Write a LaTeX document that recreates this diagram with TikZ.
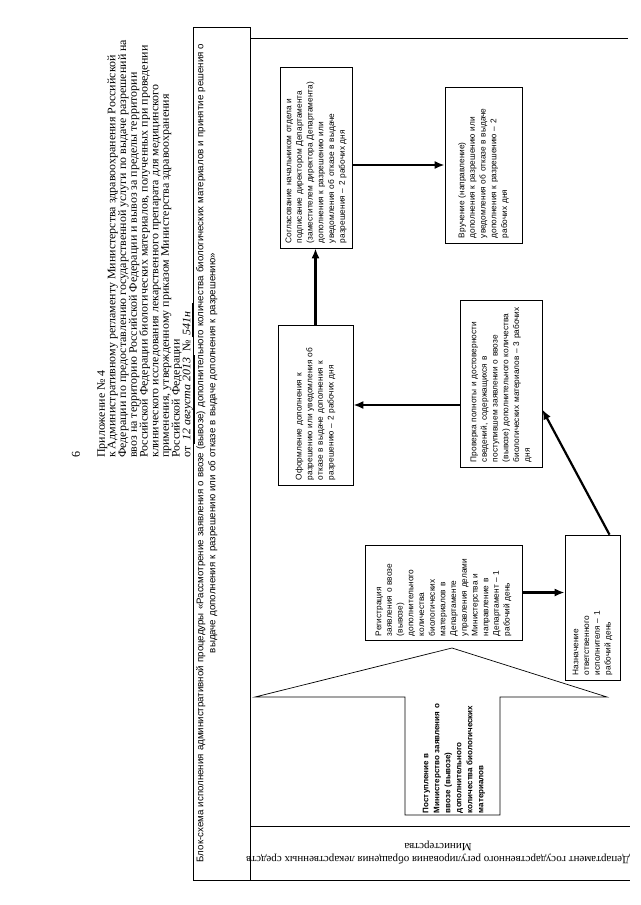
\documentclass[tikz,border=0pt]{standalone}
\usepackage{fontspec}
\setmainfont{Liberation Serif}
\setsansfont{Liberation Sans}
\newfontfamily\hdrfont[FakeStretch=1.04]{Liberation Serif}
\usetikzlibrary{arrows.meta,calc}
\begin{document}
\begin{tikzpicture}[x=1pt,y=-1pt]
\tikzset{
  frame/.style={line width=0.7pt},
  boxnode/.style={draw, line width=0.7pt, inner sep=0pt},
  btext/.style={rotate=90, inner sep=0pt, align=left, font=\sffamily\fontsize{8.3}{10.7}\selectfont},
  flow/.style={line width=2.2pt, -{Latex[length=10pt,width=8pt]}},
}
\useasboundingbox[fill=white] (0,0) rectangle (640,905);

% page number and header
\node[rotate=90, inner sep=0pt, font=\fontsize{12}{14}\selectfont] (pnum) at (76,454) {6};
\node[rotate=90, anchor=north west, align=left, inner sep=0pt, font=\hdrfont\fontsize{11.5}{10.7}\selectfont] (hdr) at (97,458)
{Приложение № 4\\
к Административному регламенту Министерства здравоохранения Российской\\
Федерации по предоставлению государственной услуги по выдаче разрешений на\\
ввоз на территорию Российской Федерации и вывоз за пределы территории\\
Российской Федерации биологических материалов, полученных при проведении\\
клинического исследования лекарственного препарата для медицинского\\
применения, утвержденному приказом Министерства здравоохранения\\
Российской Федерации\\
от \underline{\hspace{3pt}\textit{12 августа 2013}\hspace{3pt}} № \underline{\hspace{2pt}\textit{541н}\hspace{8pt}}};

% frame
\draw[frame] (193,27) rectangle (250,880);
\draw[frame] (250,38) -- (628,38);
\draw[frame] (250,826) -- (630,826);
\draw[frame] (250,880) -- (630,880);

\node[rotate=90, anchor=north, align=center, inner sep=0pt, text width=850pt, font=\sffamily\fontsize{9.7}{12}\selectfont] (ttl) at (196,453)
{Блок-схема исполнения административной процедуры «Рассмотрение заявления о ввозе (вывозе) дополнительного количества биологических материалов и принятие решения о\\
выдаче дополнения к разрешению или об отказе в выдаче дополнения к разрешению»};

\node[rotate=180, align=center, inner sep=0pt, font=\fontsize{11}{13}\selectfont] (dept) at (438,853)
{Департамент государственного регулирования обращения лекарственных средств\\Министерства};

% boxes
\node[boxnode, minimum width=72pt, minimum height=181pt] (sogl) at (316,157.5) {};
\node[btext, text width=171pt] (sogltext) at (sogl.center)
{Согласование начальником отдела и\\подписание директором Департамента\\(заместителем директора Департамента)\\дополнения к разрешению или\\уведомления об отказе в выдаче\\разрешения – 2 рабочих дня};

\node[boxnode, minimum width=77pt, minimum height=156pt] (vruch) at (483.5,165) {};
\node[btext, text width=146pt] (vruchtext) at (vruch.center)
{Вручение (направление)\\дополнения к разрешению или\\уведомления об отказе в выдаче\\дополнения к разрешению – 2\\рабочих дня};

\node[boxnode, minimum width=75pt, minimum height=160pt] (ofor) at (315.5,405) {};
\node[btext, text width=150pt] (afortext) at (ofor.center)
{Оформление дополнения к\\разрешению или уведомления об\\отказе в выдаче дополнения к\\разрешению – 2 рабочих дня};

\node[boxnode, minimum width=82pt, minimum height=167pt] (prov) at (501,383.5) {};
\node[btext, text width=157pt] (provtext) at (prov.center)
{Проверка полноты и достоверности\\сведений, содержащихся в\\поступившем заявлении о ввозе\\(вывозе) дополнительного количества\\биологических материалов – 3 рабочих\\дня};

\node[boxnode, minimum width=157pt, minimum height=95pt] (reg) at (443.5,592.5) {};
\node[btext, text width=87pt] (regtext) at (reg.center)
{Регистрация\\заявления о ввозе\\(вывозе)\\дополнительного\\количества\\биологических\\материалов в\\Департаменте\\управления делами\\Министерства и\\направление в\\Департамент – 1\\рабочий день};

\node[boxnode, minimum width=55pt, minimum height=145pt] (nazn) at (592.5,607.5) {};
\node[btext, text width=135pt] (nazntext) at (nazn.center)
{Назначение\\ответственного\\исполнителя – 1\\рабочий день};

% big incoming arrow
\draw[line width=0.7pt] (405,815) -- (405,697) -- (255,697) -- (452,648) -- (607,697) -- (500,697) -- (500,815) -- cycle;
\node[btext, font=\sffamily\bfseries\fontsize{8}{11}\selectfont, text width=114pt] (postup) at (454,756)
{Поступление в\\Министерство заявления о\\ввозе (вывозе)\\дополнительного\\количества биологических\\материалов};

% connectors
\draw[flow] (reg.east) -- (reg.east -| nazn.west);
\draw[flow] ([xshift=17pt]nazn.north) -- ([yshift=-26pt]prov.east);
\draw[flow] (prov.west |- ofor.east) -- (ofor.east);
\draw[flow] (ofor.north) -- (ofor.north |- sogl.south);
\draw[flow] (sogl.east |- vruch.west) -- (vruch.west);
\end{tikzpicture}
\end{document}
